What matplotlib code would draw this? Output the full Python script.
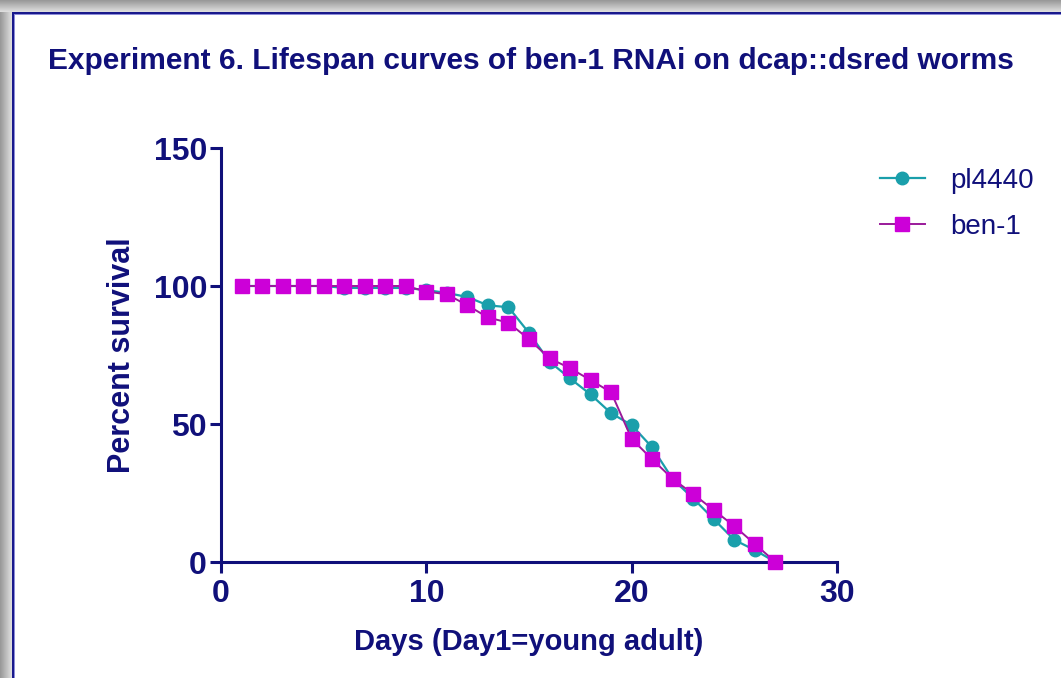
import numpy as np
import matplotlib
matplotlib.use("Agg")
import matplotlib.pyplot as plt

plt.rcParams['font.family'] = ['Liberation Sans', 'DejaVu Sans']

# survival data (percent alive per day)
days = list(range(1, 28))
pl4440 = [100, 100, 100, 100, 100, 99.3, 99.3, 99.3, 99.3, 98.5, 97.5, 96, 93, 92.3,
          83, 72.6, 66.5, 60.7, 53.9, 49.6, 41.5, 30, 23, 15.5, 8, 4.3, 0]
ben1 = [100, 100, 100, 100, 100, 100, 100, 100, 100, 98, 97, 93, 88.6, 86.7,
        80.7, 73.8, 70.2, 65.9, 61.5, 44.6, 37.2, 30.1, 24.6, 18.8, 13, 6.5, 0]

navy = '#10107a'
teal = '#1a9fab'
magenta = '#cc00d8'
purple = '#9a1a9a'

W, H = 1061, 678
fig = plt.figure(figsize=(W / 100, H / 100), dpi=100)

# window-like background: grey shadow on top/left, navy frame line
bg = np.ones((H, W, 3))
for i in range(12):
    g = 0.60 + 0.27 * (i / 11)
    bg[i, :, :] = g
    bg[:, i, :] = np.minimum(bg[:, i, :], g)
bg[12:14, 12:, :] = np.array([0.10, 0.10, 0.55])
bg[12:, 12:14, :] = np.array([0.10, 0.10, 0.55])
bg[14, 14:, :] = np.array([0.55, 0.55, 0.85])
bg[14:, 14, :] = np.array([0.55, 0.55, 0.85])
bax = fig.add_axes([0, 0, 1, 1], zorder=-5)
bax.imshow(bg, aspect='auto', interpolation='nearest')
bax.axis('off')

ax = fig.add_axes([221 / W, 1 - 562 / H, (837 - 221) / W, (562 - 148) / H])
ax.patch.set_alpha(0)
ax.plot(days, pl4440, '-o', color=teal, lw=1.6, ms=9, mec=teal, mfc=teal,
        label='pl4440', clip_on=False, zorder=3)
ax.plot(days, ben1, '-s', color=purple, lw=1.4, ms=9.5, mec=magenta, mfc=magenta,
        label='ben-1', clip_on=False, zorder=4)

ax.set_xlim(0, 30)
ax.set_ylim(0, 150)
ax.set_xticks([0, 10, 20, 30])
ax.set_yticks([0, 50, 100, 150])
for s in ['top', 'right']:
    ax.spines[s].set_visible(False)
for s in ['left', 'bottom']:
    ax.spines[s].set_color(navy)
    ax.spines[s].set_linewidth(2.2)
ax.tick_params(colors=navy, width=2.2, length=8, labelsize=23)
ax.tick_params(axis='x', pad=4)
ax.tick_params(axis='y', pad=2)
for lab in ax.get_xticklabels() + ax.get_yticklabels():
    lab.set_fontweight('bold')

ax.set_xlabel('Days (Day1=young adult)', fontsize=21, fontweight='bold',
              color=navy, labelpad=14)
ax.set_ylabel('Percent survival', fontsize=22, fontweight='bold',
              color=navy, labelpad=12)

fig.text(48 / W, 1 - 61 / H,
         'Experiment 6. Lifespan curves of ben-1 RNAi on dcap::dsred worms',
         fontsize=21.5, fontweight='bold', color=navy, va='center', ha='left')

leg = ax.legend(loc='upper left', bbox_to_anchor=(1.029, 1.012), frameon=False,
                fontsize=20, handlelength=1.62, labelspacing=0.72, handletextpad=0.9)
for t in leg.get_texts():
    t.set_color(navy)

fig.savefig('out.png', dpi=100)
